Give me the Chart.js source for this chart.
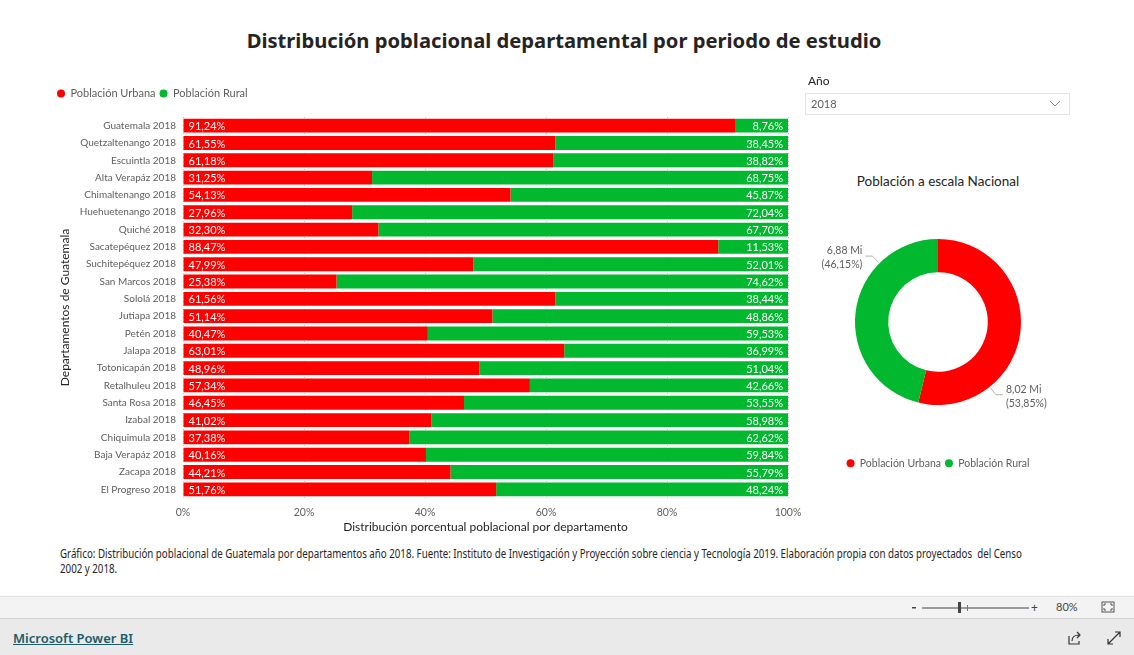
<!DOCTYPE html>
<html lang="es">
<head>
<meta charset="utf-8">
<title>Distribución poblacional departamental por periodo de estudio</title>
<script src="https://cdn.jsdelivr.net/npm/chart.js@4.4.1/dist/chart.umd.min.js"></script>
<style>
  html, body { margin: 0; padding: 0; background: #fff; }
  body { width: 1134px; height: 655px; position: relative; overflow: hidden; color: #252423;
         font-family: 'Lato', 'Noto Sans', sans-serif; }
  .abs { position: absolute; }
  #title { left: 0; width: 1128px; top: 26px; text-align: center; font: bold 20.2px 'Noto Sans', sans-serif; color: #252423; }
  #barWrap { left: 50px; top: 84px; width: 762px; height: 458px; }
  #donutWrap { left: 798px; top: 200px; width: 280px; height: 280px; }
  #donutTitle { left: 818px; width: 240px; top: 173px; text-align: center; font-size: 13.5px; }
  #slicerLabel { left: 808px; top: 73px; font-size: 12px; }
  #slicerBox { left: 805px; top: 93px; width: 263px; height: 20px; border: 1px solid #e6e6e6; }
  #slicerBox span { position: absolute; left: 5px; top: 3px; font-size: 11px; color: #605e5c; }
  #slicerBox svg { position: absolute; right: 8px; top: 6px; }
  #caption { left: 60px; top: 546px; font: 12.5px 'Noto Sans', sans-serif; line-height: 15px; white-space: nowrap;
             color: #252423; transform-origin: 0 0; }
  #zoomBar { left: 0; top: 596px; width: 1134px; height: 21px; background: #f3f3f3; border-top: 1px solid #e1e1e1; }
  #bottomBar { left: 0; top: 618px; width: 1134px; height: 37px; background: #eaeaea; border-top: 1px solid #d2d2d2; }
  #pbiLink { left: 13px; top: 10px; font: 600 13px 'Noto Sans', sans-serif; color: #1b5c66; text-decoration: underline; }
</style>
</head>
<body>
<div id="title" class="abs">Distribución poblacional departamental por periodo de estudio</div>

<div id="barWrap" class="abs"><canvas id="barChart"></canvas></div>

<div id="slicerLabel" class="abs">Año</div>
<div id="slicerBox" class="abs"><span>2018</span>
  <svg width="12" height="8" viewBox="0 0 12 8"><path d="M1 1 L6 6 L11 1" fill="none" stroke="#8a8886" stroke-width="1"/></svg>
</div>

<div id="donutTitle" class="abs">Población a escala Nacional</div>
<div id="donutWrap" class="abs"><canvas id="donutChart"></canvas></div>

<div id="caption" class="abs">Gráfico: Distribución poblacional de Guatemala por departamentos año 2018. Fuente: Instituto de Investigación y Proyección sobre ciencia y Tecnología 2019. Elaboración propia con datos proyectados &nbsp;del Censo<br>2002 y 2018.</div>

<div id="zoomBar" class="abs">
  <svg class="abs" style="left:910px; top:4px" width="130" height="14" viewBox="0 0 130 14">
    <rect x="2" y="6" width="4" height="1.5" fill="#444"/>
    <rect x="12" y="6.5" width="107" height="1" fill="#444"/>
    <rect x="48" y="1" width="3" height="11" fill="#444"/>
    <rect x="57" y="4" width="1" height="6" fill="#777"/>
    <text x="121" y="11" font-size="12" fill="#444" font-family="Noto Sans">+</text>
  </svg>
  <div class="abs" style="left:1056px; top:3px; font-size:11px; color:#444">80%</div>
  <svg class="abs" style="left:1101px; top:4px" width="14" height="12" viewBox="0 0 14 12">
    <rect x="1" y="1" width="12" height="10" fill="none" stroke="#555" stroke-width="1"/>
    <path d="M3 3 h2 M3 3 v2 M11 3 h-2 M11 3 v2 M3 9 h2 M3 9 v-2 M11 9 h-2 M11 9 v-2" stroke="#555" stroke-width="1"/>
  </svg>
</div>

<div id="bottomBar" class="abs">
  <div id="pbiLink" class="abs">Microsoft Power BI</div>
  <svg class="abs" style="left:1067px; top:11px" width="16" height="16" viewBox="0 0 16 16">
    <path d="M2 6 v8 h10 v-3" fill="none" stroke="#333" stroke-width="1.2"/>
    <path d="M5 11 c0 -4 3 -6 7 -6 M10 2 l3 3 l-3 3" fill="none" stroke="#333" stroke-width="1.2"/>
  </svg>
  <svg class="abs" style="left:1106px; top:11px" width="16" height="16" viewBox="0 0 16 16">
    <path d="M2 14 L14 2 M9 2 h5 v5 M2 9 v5 h5" fill="none" stroke="#333" stroke-width="1.2"/>
  </svg>
</div>

<script>
const departments = [
  'Guatemala 2018', 'Quetzaltenango 2018', 'Escuintla 2018', 'Alta Verapáz 2018',
  'Chimaltenango 2018', 'Huehuetenango 2018', 'Quiché 2018', 'Sacatepéquez 2018',
  'Suchitepéquez 2018', 'San Marcos 2018', 'Sololá 2018', 'Jutiapa 2018',
  'Petén 2018', 'Jalapa 2018', 'Totonicapán 2018', 'Retalhuleu 2018',
  'Santa Rosa 2018', 'Izabal 2018', 'Chiquimula 2018', 'Baja Verapáz 2018',
  'Zacapa 2018', 'El Progreso 2018'
];
const urbanPct = [91.24, 61.55, 61.18, 31.25, 54.13, 27.96, 32.30, 88.47, 47.99, 25.38, 61.56,
                  51.14, 40.47, 63.01, 48.96, 57.34, 46.45, 41.02, 37.38, 40.16, 44.21, 51.76];
const ruralPct = [8.76, 38.45, 38.82, 68.75, 45.87, 72.04, 67.70, 11.53, 52.01, 74.62, 38.44,
                  48.86, 59.53, 36.99, 51.04, 42.66, 53.55, 58.98, 62.62, 59.84, 55.79, 48.24];
const xTicks = [0, 20, 40, 60, 80, 100];

const nationalLabels = ['Población Urbana', 'Población Rural'];
const nationalMillions = [8.02, 6.88];
const nationalPct = [53.85, 46.15];

const RED = '#FF0000';
const GREEN = '#01B82E';
const TICK = '#605E5C';
const FONT = "'Lato', 'Noto Sans', sans-serif";

Chart.defaults.font.family = FONT;
Chart.defaults.color = TICK;

const comma = (v) => v.toFixed(2).replace('.', ',');

// squeeze the caption into the width the report gives it
const caption = document.getElementById('caption');
caption.style.transform = 'scaleX(' + (962 / caption.scrollWidth).toFixed(4) + ')';

// lets a chart fix the legend's height and nudge it around
const legendBox = {
  id: 'legendBox',
  beforeLayout(chart, args, opts) {
    const lg = chart.legend;
    if (!lg || lg._patched) return;
    const fit = lg.fit;
    lg.fit = function () {
      fit.call(this);
      if (opts.height) this.height = opts.height;
    };
    lg._patched = true;
  },
  afterLayout(chart, args, opts) {
    if (opts.dy) {
      chart.legend.top += opts.dy;
      chart.legend.bottom += opts.dy;
    }
    if (opts.dx) {
      chart.legend.left += opts.dx;
      chart.legend.right += opts.dx;
    }
  }
};

// percentage labels inside the bars
const barLabels = {
  id: 'barLabels',
  afterDatasetsDraw(chart) {
    const ctx = chart.ctx;
    ctx.save();
    ctx.font = '11px ' + FONT;
    ctx.fillStyle = '#fff';
    ctx.textBaseline = 'middle';
    chart.data.datasets.forEach((ds, di) => {
      chart.getDatasetMeta(di).data.forEach((bar, i) => {
        const p = bar.getProps(['x', 'y', 'base'], true);
        const txt = comma(ds.data[i]) + '%';
        if (di === 0) {
          ctx.textAlign = 'left';
          ctx.fillText(txt, p.base + 5, p.y + 1);
        } else {
          ctx.textAlign = 'right';
          ctx.fillText(txt, p.x - 5, p.y + 1);
        }
      });
    });
    ctx.restore();
  }
};

// outside labels with leader lines for the donut
const donutLabels = {
  id: 'donutLabels',
  afterDatasetsDraw(chart) {
    const ctx = chart.ctx;
    ctx.save();
    ctx.font = '10.5px ' + FONT;
    ctx.textBaseline = 'middle';
    chart.getDatasetMeta(0).data.forEach((arc, i) => {
      const p = arc.getProps(['x', 'y', 'startAngle', 'endAngle', 'outerRadius'], true);
      const a = p.startAngle + 0.73 * (p.endAngle - p.startAngle);
      const c = Math.cos(a), s = Math.sin(a);
      const side = c >= 0 ? 1 : -1;
      const x0 = p.x + c * (p.outerRadius + 1), y0 = p.y + s * (p.outerRadius + 1);
      const x1 = p.x + c * (p.outerRadius + 10), y1 = p.y + s * (p.outerRadius + 10);
      const x2 = x1 + side * 7;
      ctx.strokeStyle = '#b3b0ad';
      ctx.lineWidth = 1;
      ctx.beginPath();
      ctx.moveTo(x0, y0);
      ctx.lineTo(x1, y1);
      ctx.lineTo(x2, y1);
      ctx.stroke();
      ctx.fillStyle = TICK;
      ctx.textAlign = side > 0 ? 'left' : 'right';
      ctx.fillText(comma(nationalMillions[i]) + ' Mi', x2 + side * 3, y1 - 5);
      ctx.fillText('(' + comma(nationalPct[i]) + '%)', x2 + side * 3, y1 + 9);
    });
    ctx.restore();
  }
};

new Chart(document.getElementById('barChart'), {
  type: 'bar',
  data: {
    labels: departments,
    datasets: [
      { label: 'Población Urbana', data: urbanPct, backgroundColor: RED, barPercentage: 0.8, categoryPercentage: 1 },
      { label: 'Población Rural', data: ruralPct, backgroundColor: GREEN, barPercentage: 0.8, categoryPercentage: 1 }
    ]
  },
  options: {
    indexAxis: 'y',
    responsive: true,
    maintainAspectRatio: false,
    animation: false,
    layout: { padding: { left: 0, right: 24, top: 0, bottom: 0 } },
    plugins: {
      legend: {
        position: 'top',
        align: 'start',
        labels: {
          usePointStyle: true, pointStyle: 'circle', boxWidth: 8, boxHeight: 5.66,
          padding: 4, color: TICK, font: { size: 11 }
        }
      },
      tooltip: { enabled: false },
      legendBox: { height: 33, dx: 3 }
    },
    scales: {
      x: {
        stacked: true,
        min: 0,
        max: 100,
        afterBuildTicks: (scale) => { scale.ticks = xTicks.map(v => ({ value: v })); },
        ticks: { callback: (v) => v + '%', padding: 8, font: { size: 10.5 }, color: TICK },
        grid: { color: '#c8c6c4', drawTicks: false, lineWidth: 1 },
        border: { display: false, dash: [1, 3] },
        title: { display: true, text: 'Distribución porcentual poblacional por departamento', color: '#252423', font: { size: 12 }, padding: 8 },
        afterFit: (scale) => { scale.height = 44; }
      },
      y: {
        stacked: true,
        grid: { display: false, drawTicks: false },
        border: { display: false },
        ticks: { padding: 7, font: { size: 10 }, color: TICK },
        title: { display: true, text: 'Departamentos de Guatemala', color: '#252423', font: { size: 12 }, padding: 8 },
        afterFit: (scale) => { scale.width = 133; }
      }
    }
  },
  plugins: [legendBox, barLabels]
});

new Chart(document.getElementById('donutChart'), {
  type: 'doughnut',
  data: {
    labels: nationalLabels,
    datasets: [{
      data: nationalMillions,
      backgroundColor: [RED, GREEN],
      borderWidth: 0,
      radius: 83,
      cutout: '60%'
    }]
  },
  options: {
    responsive: true,
    maintainAspectRatio: false,
    animation: false,
    plugins: {
      legend: {
        position: 'bottom',
        labels: {
          usePointStyle: true, pointStyle: 'circle', boxWidth: 8, boxHeight: 5.66,
          padding: 4, color: TICK, font: { size: 10.5 }
        }
      },
      tooltip: { enabled: false },
      legendBox: { height: 36, dy: 10 }
    }
  },
  plugins: [legendBox, donutLabels]
});
</script>
</body>
</html>
